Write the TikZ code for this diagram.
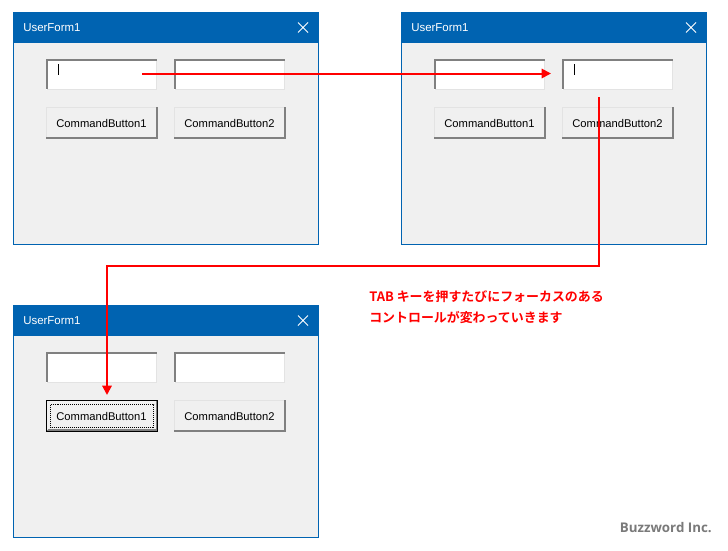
\documentclass[tikz,border=0pt]{standalone}
\usepackage{fontspec}
\setmainfont{Liberation Sans}
\newfontfamily\uifont{Liberation Sans}
\newfontfamily\cjkfont{Noto Sans CJK JP}[BoldFont={Noto Sans CJK JP Bold}]
\newfontfamily\markfont{Open Sans}
\usetikzlibrary{arrows.meta}
\definecolor{winblue}{HTML}{0063B1}
\definecolor{winbg}{HTML}{F0F0F0}
\definecolor{edgedark}{HTML}{808080}
\definecolor{edgelight}{HTML}{E3E3E3}
\definecolor{redline}{HTML}{FF0000}
\tikzset{
  x=0.75pt,y=-0.75pt,
  winbody/.style={draw=winblue,fill=winbg,line width=0.75pt},
  winbar/.style={fill=winblue},
  wintitle/.style={text=white,font=\uifont\fontsize{8.6pt}{11pt}\selectfont,anchor=west,inner sep=0pt},
  btntext/.style={text=black,font=\uifont\fontsize{8.4pt}{10pt}\selectfont,inner sep=0pt},
  flow/.style={draw=redline,line width=1.5pt,-{Triangle[length=7pt,width=7pt]}},
  note/.style={text=redline,font=\cjkfont\bfseries\fontsize{9.7pt}{16pt}\selectfont,align=left,anchor=north west,inner sep=0pt},
}
% #1 name, #2 x offset, #3 y offset
\newcommand{\uform}[3]{%
  \begin{scope}[shift={(#2,#3)}]
    \filldraw[winbody] (13.5,12.5) rectangle (318.5,244.5);
    \fill[winbar] (13,12) rectangle (319,43);
    \node[wintitle] (#1title) at (23,28) {UserForm1};
    \draw[white,line width=0.6pt] (298,22.5) -- (308,32.5) (308,22.5) -- (298,32.5);
    \foreach \bx/\tag in {46/A,174/B}{
      \fill[white] (\bx,59) rectangle ++(111,31);
      \draw[edgelight,line width=0.75pt] (\bx+0.5,89.5) -- ++(110,0) -- ++(0,-30);
      \draw[edgedark,line width=1.5pt] (\bx+1,89) -- ++(0,-29) -- ++(110,0);
      \coordinate (#1box\tag) at (\bx+55.5,74.5);
    }
    \foreach \bx/\lbl/\tag in {46/1/A,174/2/B}{
      \fill[winbg] (\bx,107) rectangle ++(112,32);
      \draw[edgelight,line width=0.75pt] (\bx+0.5,138) -- ++(0,-30.5) -- ++(110.5,0);
      \draw[edgedark,line width=1.5pt] (\bx,138) -- ++(111,0) -- ++(0,-31);
      \node[btntext] (#1btn\tag) at (\bx+55.5,123) {CommandButton\lbl};
    }
  \end{scope}}
\begin{document}
\begin{tikzpicture}
\useasboundingbox (0,0) rectangle (728,550);
\fill[white] (0,0) rectangle (728,550);
\uform{one}{0}{0}
\uform{two}{388}{0}
\uform{three}{0}{293}
% carets
\draw[black,line width=0.75pt] (58.5,64) -- (58.5,75);
\draw[black,line width=0.75pt] (574.5,64) -- (574.5,75);
% focused button in third window
\draw[black,line width=1pt] (46.5,400.5) rectangle (157.5,431.5);
\draw[edgedark,line width=1pt] (47.5,430) -- (156.5,430) -- (156.5,401.5);
\draw[black,line width=0.6pt,dash pattern=on 0.75pt off 0.75pt] (50.5,404.5) rectangle (153.5,427.5);
% connectors
\coordinate (startA) at (142,73.5);
\coordinate (endA) at (551,73.5);
\coordinate (startB) at (598.5,97);
\coordinate (endB) at (107,395);
\draw[flow] (startA) -- (endA);
\draw[flow] (startB) -- (598.5,266) -- (107,266) -- (endB);
\node[note] (noteText) at (369,290) {TAB キーを押すたびにフォーカスのある\\コントロールが変わっていきます};
\node[text=black!52,font=\markfont\bfseries\fontsize{10pt}{12pt}\selectfont,anchor=east,inner sep=0pt] (brand) at (712,528) {Buzzword Inc.};
\end{tikzpicture}
\end{document}
